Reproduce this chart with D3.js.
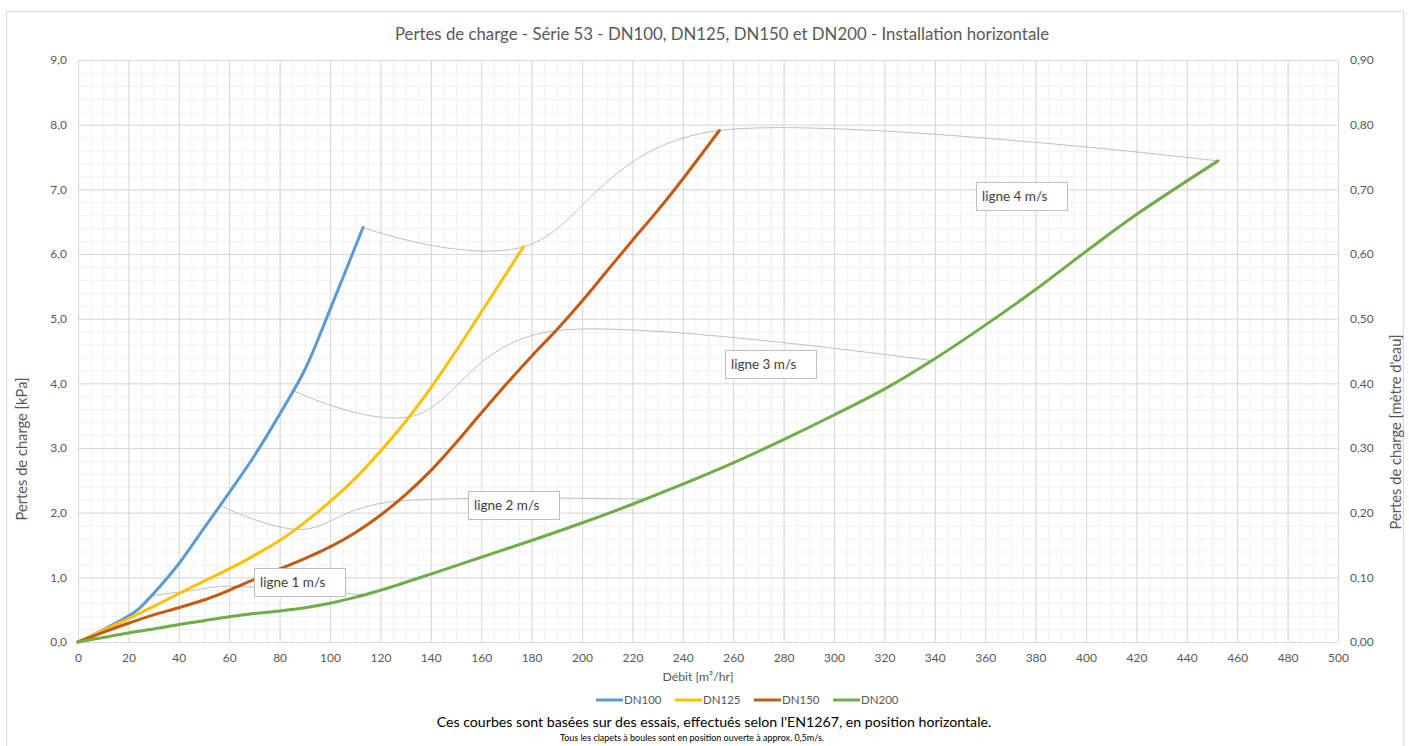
<!DOCTYPE html>
<html><head><meta charset="utf-8">
<script src="https://cdn.jsdelivr.net/npm/d3@7"></script>
<style>body{margin:0;background:#fff;} svg{display:block;font-family:Lato,'Open Sans',sans-serif;}</style>
</head><body><svg id="c" width="1409" height="746"></svg>
<script>
// ---------- data ----------
const chartTitle = "Pertes de charge - Série 53 - DN100, DN125, DN150 et DN200 - Installation horizontale";
const xTickValues = [0,20,40,60,80,100,120,140,160,180,200,220,240,260,280,300,320,340,360,380,400,420,440,460,480,500];
const yTickValues = [0,1,2,3,4,5,6,7,8,9];
const yLeftLabels = ["0,0","1,0","2,0","3,0","4,0","5,0","6,0","7,0","8,0","9,0"];
const yRightLabels = ["0,00","0,10","0,20","0,30","0,40","0,50","0,60","0,70","0,80","0,90"];
const seriesNames = ["DN100","DN125","DN150","DN200"];
const dn100 = [[0,0],[10,0.19],[20,0.4],[24,0.51],[30,0.75],[40,1.21],[50,1.76],[60,2.31],[70,2.88],[80,3.52],[90,4.21],[100,5.14],[113.1,6.41]];
const dn125 = [[0,0],[10,0.18],[20,0.36],[30,0.55],[40,0.75],[50,0.94],[60,1.13],[70,1.34],[80,1.57],[90,1.85],[100,2.17],[110,2.53],[120,2.95],[130,3.41],[140,3.93],[150,4.5],[160,5.1],[170,5.7],[176.7,6.11]];
const dn150 = [[0,0],[10,0.15],[20,0.29],[30,0.42],[40,0.53],[50,0.65],[60,0.8],[70,0.97],[80,1.13],[90,1.29],[100,1.47],[110,1.69],[120,1.96],[130,2.28],[140,2.65],[150,3.08],[160,3.54],[170,3.99],[180,4.42],[190,4.83],[200,5.27],[210,5.74],[220,6.21],[230,6.67],[240,7.16],[254.5,7.91]];
const dn200 = [[0,0],[10,0.07],[20,0.14],[30,0.2],[40,0.27],[50,0.33],[60,0.39],[70,0.44],[80,0.48],[90,0.53],[100,0.6],[110,0.69],[120,0.8],[140,1.05],[160,1.31],[180,1.57],[200,1.84],[220,2.13],[240,2.44],[260,2.77],[280,3.13],[300,3.51],[320,3.91],[340,4.38],[360,4.9],[380,5.45],[400,6.04],[420,6.61],[452.4,7.44]];
const ligne1 = [[28.3,0.71],[44.2,0.79],[63.6,0.86],[113.1,0.73]];
const ligne2 = [[56.5,2.11],[88.4,1.74],[127.2,2.18],[226,2.21]];
const ligne3 = [[84.8,3.9],[132.5,3.49],[190.8,4.82],[339,4.35]];
const ligne4 = [[113.1,6.41],[176.7,6.11],[254.5,7.91],[452.4,7.44]];
const labelTexts = ["ligne 1 m/s","ligne 2 m/s","ligne 3 m/s","ligne 4 m/s"];
const labelAnchorQ = [70,154.6,256.7,356.3];
const labelAnchorP = [1.15,2.34,4.52,7.11];
const seriesColors = ["#5B9BD5","#FFC000","#C55A11","#70AD47"];

// ---------- layout ----------
const pL = 78, pR = 1338, pT = 60, pB = 642;
const svg = d3.select("#c");
const x = d3.scaleLinear().domain([0,500]).range([pL,pR]);
const y = d3.scaleLinear().domain([0,9]).range([pB,pT]);
const txt = "#595959";

function fit(sel, w){
  const cur = sel.node().getComputedTextLength();
  const fs = parseFloat(sel.attr("font-size"));
  sel.attr("font-size", (fs*w/cur).toFixed(2));
}

// chart border
svg.append("rect").attr("x",6.5).attr("y",11.5).attr("width",1397).attr("height",760)
  .attr("fill","#fff").attr("stroke","#d9d9d9");

// minor grid
svg.append("g").attr("transform",`translate(0,${pB})`)
  .call(d3.axisBottom(x).tickValues(d3.range(0,501,5)).tickSize(-(pB-pT)).tickFormat(""))
  .call(g=>{g.select(".domain").remove(); g.selectAll("line").attr("stroke","#f0f0f0");});
svg.append("g").attr("transform",`translate(${pL},0)`)
  .call(d3.axisLeft(y).tickValues(d3.range(0,9.01,0.2)).tickSize(-(pR-pL)).tickFormat(""))
  .call(g=>{g.select(".domain").remove(); g.selectAll("line").attr("stroke","#f0f0f0");});
// major grid
svg.append("g").attr("transform",`translate(0,${pB})`)
  .call(d3.axisBottom(x).tickValues(xTickValues).tickSize(-(pB-pT)).tickFormat(""))
  .call(g=>{g.select(".domain").remove(); g.selectAll("line").attr("stroke","#d9d9d9");});
svg.append("g").attr("transform",`translate(${pL},0)`)
  .call(d3.axisLeft(y).tickValues(yTickValues).tickSize(-(pR-pL)).tickFormat(""))
  .call(g=>{g.select(".domain").remove(); g.selectAll("line").attr("stroke","#d9d9d9");});

// axes labels
svg.append("g").attr("transform",`translate(0,${pB})`)
  .call(d3.axisBottom(x).tickValues(xTickValues).tickSize(0).tickPadding(11).tickFormat(d=>String(d)))
  .call(g=>{g.select(".domain").remove(); g.selectAll("text").attr("fill",txt).attr("font-size",12).attr("font-family","Lato");});
svg.append("g").attr("transform",`translate(${pL},0)`)
  .call(d3.axisLeft(y).tickValues(yTickValues).tickSize(0).tickPadding(11).tickFormat((d,i)=>yLeftLabels[i]))
  .call(g=>{g.select(".domain").remove(); g.selectAll("text").attr("fill",txt).attr("font-size",12).attr("font-family","Lato");});
svg.append("g").attr("transform",`translate(${pR},0)`)
  .call(d3.axisRight(y).tickValues(yTickValues).tickSize(0).tickPadding(12).tickFormat((d,i)=>yRightLabels[i]))
  .call(g=>{g.select(".domain").remove(); g.selectAll("text").attr("fill",txt).attr("font-size",12).attr("font-family","Lato");});

// velocity lines
const vline = d3.line().x(d=>x(d[0])).y(d=>y(d[1])).curve(d3.curveCardinal.tension(0));
[ligne1,ligne2,ligne3,ligne4].forEach(L=>{
  svg.append("path").attr("d",vline(L)).attr("fill","none").attr("stroke","#bfbfbf").attr("stroke-width",1);
});

// series
const sline = d3.line().x(d=>x(d[0])).y(d=>y(d[1])).curve(d3.curveCatmullRom.alpha(0.5));
[dn100,dn125,dn150,dn200].forEach((S,i)=>{
  svg.append("path").attr("d",sline(S)).attr("fill","none").attr("stroke",seriesColors[i])
    .attr("stroke-width",3).attr("stroke-linejoin","round").attr("stroke-linecap","round");
});

// labels
labelTexts.forEach((t,i)=>{
  const bx = x(labelAnchorQ[i]), by = y(labelAnchorP[i]);
  svg.append("rect").attr("x",Math.round(bx)+0.5).attr("y",Math.round(by)+0.5).attr("width",91).attr("height",28)
    .attr("fill","#fff").attr("stroke","#bfbfbf");
  svg.append("text").attr("x",Math.round(bx)+6).attr("y",Math.round(by)+19).attr("font-size",13.5)
    .attr("fill","#404040").text(t);
});

// title
const tt = svg.append("text").attr("x",722).attr("y",40).attr("text-anchor","middle")
  .attr("font-size",16).attr("fill",txt).text(chartTitle);
fit(tt,655);

// axis titles
const xt = svg.append("text").attr("x",698).attr("y",681).attr("text-anchor","middle")
  .attr("font-size",13).attr("fill",txt).text("Débit [m³/hr]");
fit(xt,71);
const ylt = svg.append("text").attr("transform","translate(27,449) rotate(-90)").attr("text-anchor","middle")
  .attr("font-size",13).attr("fill",txt).text("Pertes de charge [kPa]");
fit(ylt,143);
const yrt = svg.append("text").attr("transform","translate(1401,432) rotate(-90)").attr("text-anchor","middle")
  .attr("font-size",13).attr("fill",txt).text("Pertes de charge [mètre d'eau]");
fit(yrt,195);

// legend
const legX = [596,675,754,833];
seriesNames.forEach((n,i)=>{
  svg.append("line").attr("x1",legX[i]).attr("x2",legX[i]+27).attr("y1",700).attr("y2",700)
    .attr("stroke",seriesColors[i]).attr("stroke-width",3);
  svg.append("text").attr("x",legX[i]+28).attr("y",704).attr("font-size",11.5).attr("fill",txt).text(n);
});

// footnotes
const f1 = svg.append("text").attr("x",714).attr("y",727).attr("text-anchor","middle")
  .attr("font-size",13).attr("fill","#000")
  .text("Ces courbes sont basées sur des essais, effectués selon l'EN1267, en position horizontale.");
fit(f1,555);
const f2 = svg.append("text").attr("x",560).attr("y",741).attr("text-anchor","start")
  .attr("font-size",10).attr("fill","#000")
  .text("Tous les clapets à boules sont en position ouverte à approx. 0,5m/s.");
fit(f2,264);
</script></body></html>
